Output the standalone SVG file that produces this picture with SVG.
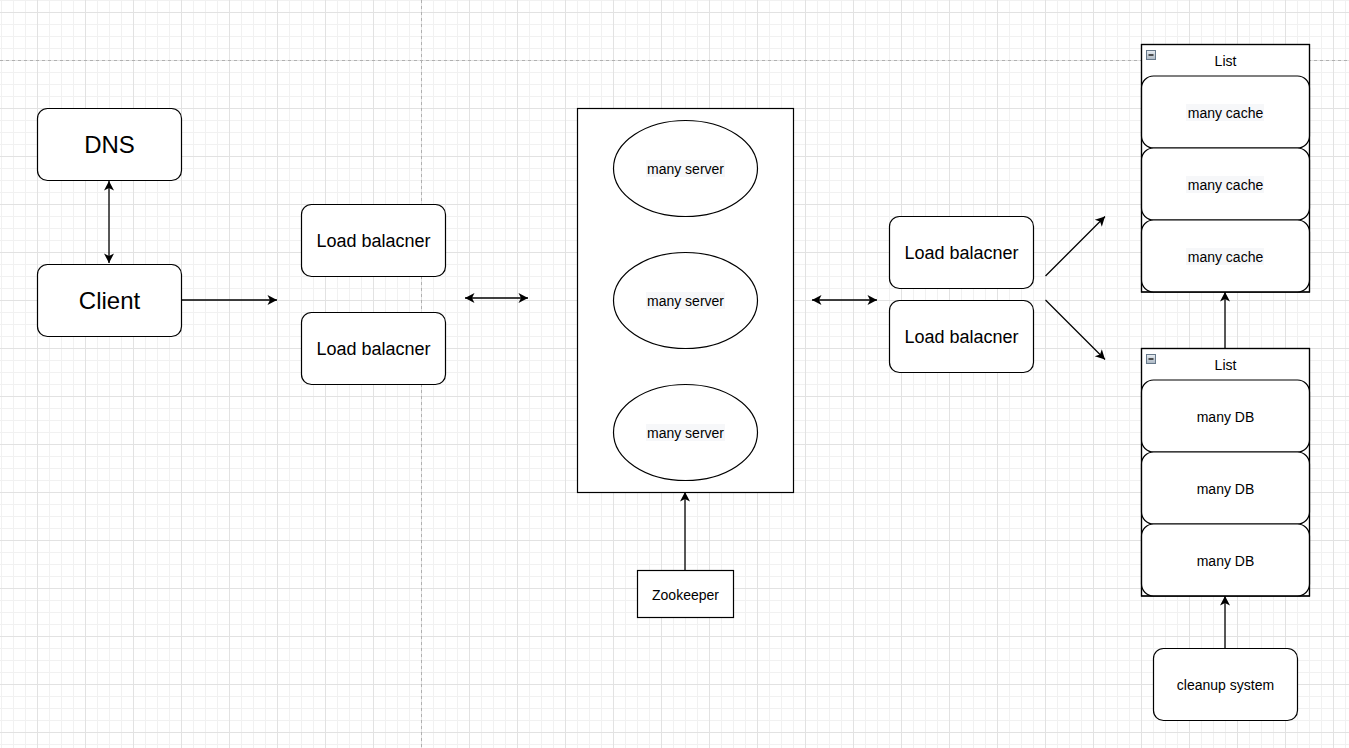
<svg xmlns="http://www.w3.org/2000/svg" width="1349" height="748" viewBox="0 0 1349 748">
<style>
.box{fill:#fff;stroke:#000;stroke-width:1.2}
.edge{fill:none;stroke:#000;stroke-width:1.3}
.t24{font-family:"Liberation Sans",Arial,sans-serif;font-size:24px;text-anchor:middle;dominant-baseline:central;fill:#000}
.t18{font-family:"Liberation Sans",Arial,sans-serif;font-size:18px;text-anchor:middle;dominant-baseline:central;fill:#000}
.t14{font-family:"Liberation Sans",Arial,sans-serif;font-size:14px;text-anchor:middle;dominant-baseline:central;fill:#000}
.hl{fill:#f6f7f9}
</style>
<defs>
<pattern id="minor" patternUnits="userSpaceOnUse" x="1" y="0" width="12" height="12">
<path d="M0.5 0V12M0 0.5H12" stroke="#f1f1f1" stroke-width="1" fill="none"/>
</pattern>
<pattern id="major" patternUnits="userSpaceOnUse" x="37" y="12" width="48" height="48">
<path d="M0.5 0V48M0 0.5H48" stroke="#e2e2e2" stroke-width="1" fill="none"/>
</pattern>
<marker id="arr" markerUnits="userSpaceOnUse" viewBox="-10 -6 11 12" refX="0" refY="0" markerWidth="11" markerHeight="12" orient="auto-start-reverse">
<path d="M-9.5,-5 L0,0 L-9.5,5 L-7,0 Z" fill="#000"/>
</marker>
<linearGradient id="ig" x1="0" y1="0" x2="0" y2="1">
<stop offset="0" stop-color="#e8edf2"/><stop offset="1" stop-color="#aab6c2"/>
</linearGradient>
</defs>
<rect width="1349" height="748" fill="#fff"/>
<rect width="1349" height="748" fill="url(#minor)"/>
<rect width="1349" height="748" fill="url(#major)"/>
<path d="M0 60.5H1349M421.5 0V748" stroke="#b0b0b0" stroke-width="1" stroke-dasharray="3 3" fill="none"/>

<g id="connectors">
<path class="edge" d="M109 181V263" marker-start="url(#arr)" marker-end="url(#arr)"/>
<path class="edge" d="M182 300H277" marker-end="url(#arr)"/>
<path class="edge" d="M465 298H528" marker-start="url(#arr)" marker-end="url(#arr)"/>
<path class="edge" d="M812 300H877" marker-start="url(#arr)" marker-end="url(#arr)"/>
<path class="edge" d="M685 570V492" marker-end="url(#arr)"/>
<path class="edge" d="M1045.5 276L1105 216.5" marker-end="url(#arr)"/>
<path class="edge" d="M1045.5 300L1105 359.5" marker-end="url(#arr)"/>
<path class="edge" d="M1225 348V292" marker-end="url(#arr)"/>
<path class="edge" d="M1225 648V596" marker-end="url(#arr)"/>
</g>

<g id="dns">
<rect class="box" x="37.5" y="108.5" width="144" height="72" rx="10"/>
<text class="t24" x="109.5" y="144.5">DNS</text>
</g>
<g id="client">
<rect class="box" x="37.5" y="264.5" width="144" height="72" rx="10"/>
<text class="t24" x="109.5" y="300.5">Client</text>
</g>
<g id="lb1">
<rect class="box" x="301.5" y="204.5" width="144" height="72" rx="10"/>
<text class="t18" x="373.5" y="240.5">Load balacner</text>
</g>
<g id="lb2">
<rect class="box" x="301.5" y="312.5" width="144" height="72" rx="10"/>
<text class="t18" x="373.5" y="348.5">Load balacner</text>
</g>
<g id="servers">
<rect class="box" x="577.5" y="108.5" width="216" height="384"/>
<ellipse class="box" cx="685.5" cy="168.5" rx="72" ry="48"/>
<rect class="hl" x="646" y="160" width="79" height="17"/>
<text class="t14" x="685.5" y="169">many server</text>
<ellipse class="box" cx="685.5" cy="300.5" rx="72" ry="48"/>
<rect class="hl" x="646" y="292" width="79" height="17"/>
<text class="t14" x="685.5" y="301">many server</text>
<ellipse class="box" cx="685.5" cy="432.5" rx="72" ry="48"/>
<rect class="hl" x="646" y="424" width="79" height="17"/>
<text class="t14" x="685.5" y="433">many server</text>
</g>
<g id="zookeeper">
<rect class="box" x="637.5" y="570.5" width="96" height="47"/>
<text class="t14" x="685.5" y="594.5">Zookeeper</text>
</g>
<g id="lb3">
<rect class="box" x="889.5" y="216.5" width="144" height="72" rx="10"/>
<text class="t18" x="961.5" y="252.5">Load balacner</text>
</g>
<g id="lb4">
<rect class="box" x="889.5" y="300.5" width="144" height="72" rx="10"/>
<text class="t18" x="961.5" y="336.5">Load balacner</text>
</g>
<g id="cache-list">
<rect class="box" x="1141.5" y="44.5" width="168" height="247.5"/>
<rect x="1146.5" y="50.5" width="9" height="9" fill="url(#ig)" stroke="#66788a" stroke-width="1"/>
<path d="M1148.5 55H1153.5" stroke="#222" stroke-width="1.5"/>
<text class="t14" x="1225.5" y="61">List</text>
<rect class="box" x="1141.5" y="76" width="168" height="72" rx="12"/>
<rect class="hl" x="1186" y="104" width="78" height="17"/>
<text class="t14" x="1225.5" y="113">many cache</text>
<rect class="box" x="1141.5" y="148" width="168" height="72" rx="12"/>
<rect class="hl" x="1186" y="176" width="78" height="17"/>
<text class="t14" x="1225.5" y="185">many cache</text>
<rect class="box" x="1141.5" y="220" width="168" height="72" rx="12"/>
<rect class="hl" x="1186" y="248" width="78" height="17"/>
<text class="t14" x="1225.5" y="257">many cache</text>
<rect x="1141.5" y="44.5" width="168" height="247.5" fill="none" stroke="#000" stroke-width="1.2"/>
</g>
<g id="db-list">
<rect class="box" x="1141.5" y="348.5" width="168" height="247.5"/>
<rect x="1146.5" y="354.5" width="9" height="9" fill="url(#ig)" stroke="#66788a" stroke-width="1"/>
<path d="M1148.5 359H1153.5" stroke="#222" stroke-width="1.5"/>
<text class="t14" x="1225.5" y="365">List</text>
<rect class="box" x="1141.5" y="380" width="168" height="72" rx="12"/>
<text class="t14" x="1225.5" y="417">many DB</text>
<rect class="box" x="1141.5" y="452" width="168" height="72" rx="12"/>
<text class="t14" x="1225.5" y="489">many DB</text>
<rect class="box" x="1141.5" y="524" width="168" height="72" rx="12"/>
<text class="t14" x="1225.5" y="561">many DB</text>
<rect x="1141.5" y="348.5" width="168" height="247.5" fill="none" stroke="#000" stroke-width="1.2"/>
</g>
<g id="cleanup">
<rect class="box" x="1153.5" y="648.5" width="144" height="72" rx="10"/>
<text class="t14" x="1225.5" y="685">cleanup system</text>
</g>
</svg>
